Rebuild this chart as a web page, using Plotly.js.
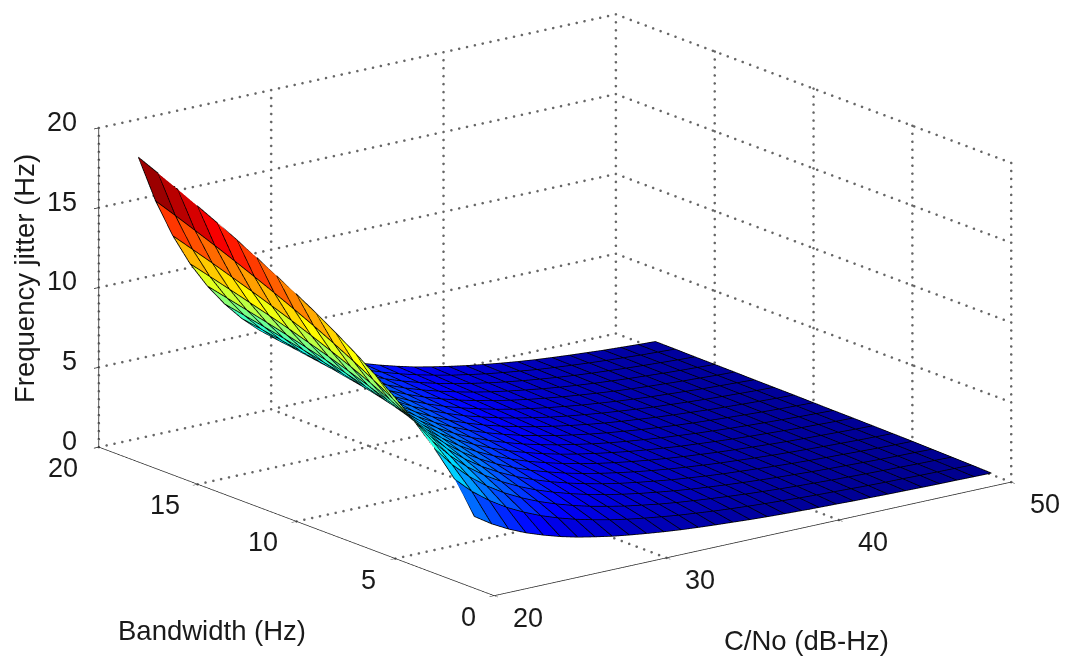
<!DOCTYPE html>
<html><head><meta charset="utf-8">
<script src="https://cdn.plot.ly/plotly-3.0.1.min.js"></script>
<style>html,body{margin:0;padding:0;background:#fff}#c{width:1066px;height:658px}</style>
</head><body><div id="c"></div>
<script>
// Hand-estimated jitter values (Hz), read off the picture and smoothed by eye along each mesh line.
const cno = [20,21,22,23,24,25,26,27,28,29,30,31,32,33,34,35,36,37,38,39,40,41,42,43,44,45,46,47,48,49,50];
const bandwidth = [1,2,3,4,5,6,7,8,9,10,11,12,13,14,15,16,17,18];
const bw1 = [4.50,3.80,3.23,2.76,2.38,2.05,1.78,1.56,1.36,1.20,1.06,0.93,0.82,0.73,0.65,0.58,0.51,0.45,0.40,0.36,0.32,0.29,0.25,0.23,0.20,0.18,0.16,0.14,0.13,0.11,0.10];
const bw2 = [6.37,5.37,4.57,3.90,3.36,2.90,2.52,2.20,1.93,1.69,1.49,1.32,1.17,1.03,0.92,0.81,0.72,0.64,0.57,0.51,0.45,0.40,0.36,0.32,0.28,0.25,0.23,0.20,0.18,0.16,0.14];
const bw3 = [7.80,6.58,5.59,4.78,4.11,3.56,3.09,2.70,2.36,2.07,1.83,1.61,1.43,1.26,1.12,1.00,0.89,0.79,0.70,0.62,0.55,0.49,0.44,0.39,0.35,0.31,0.28,0.25,0.22,0.20,0.17];
const bw4 = [9.00,7.60,6.46,5.52,4.75,4.11,3.57,3.11,2.73,2.40,2.11,1.86,1.65,1.46,1.30,1.15,1.02,0.91,0.81,0.72,0.64,0.57,0.51,0.45,0.40,0.36,0.32,0.28,0.25,0.23,0.20];
const bw5 = [10.07,8.50,7.22,6.17,5.31,4.59,3.99,3.48,3.05,2.68,2.36,2.08,1.84,1.63,1.45,1.29,1.14,1.02,0.90,0.80,0.72,0.64,0.57,0.50,0.45,0.40,0.36,0.32,0.28,0.25,0.23];
const bw6 = [11.03,9.31,7.91,6.76,5.82,5.03,4.37,3.81,3.34,2.93,2.59,2.28,2.02,1.79,1.59,1.41,1.25,1.11,0.99,0.88,0.78,0.70,0.62,0.55,0.49,0.44,0.39,0.35,0.31,0.28,0.25];
const bw7 = [11.91,10.05,8.54,7.31,6.28,5.43,4.72,4.12,3.61,3.17,2.79,2.47,2.18,1.93,1.71,1.52,1.35,1.20,1.07,0.95,0.85,0.75,0.67,0.60,0.53,0.47,0.42,0.38,0.34,0.30,0.27];
const bw8 = [12.73,10.75,9.13,7.81,6.72,5.81,5.05,4.40,3.86,3.39,2.99,2.64,2.33,2.06,1.83,1.63,1.45,1.28,1.14,1.02,0.90,0.81,0.72,0.64,0.57,0.51,0.45,0.40,0.36,0.32,0.29];
const bw9 = [13.51,11.40,9.69,8.28,7.13,6.16,5.35,4.67,4.09,3.59,3.17,2.80,2.47,2.19,1.94,1.73,1.53,1.36,1.21,1.08,0.96,0.86,0.76,0.68,0.60,0.54,0.48,0.43,0.38,0.34,0.30];
const bw10 = [14.24,12.02,10.21,8.73,7.51,6.50,5.64,4.92,4.31,3.79,3.34,2.95,2.61,2.31,2.05,1.82,1.62,1.44,1.28,1.14,1.01,0.90,0.80,0.71,0.64,0.57,0.51,0.45,0.40,0.36,0.32];
const bw11 = [14.93,12.60,10.71,9.16,7.88,6.81,5.92,5.16,4.52,3.97,3.50,3.09,2.73,2.42,2.15,1.91,1.70,1.51,1.34,1.19,1.06,0.95,0.84,0.75,0.67,0.59,0.53,0.47,0.42,0.37,0.34];
const bw12 = [15.60,13.16,11.19,9.56,8.23,7.12,6.18,5.39,4.72,4.15,3.66,3.23,2.85,2.53,2.24,1.99,1.77,1.57,1.40,1.25,1.11,0.99,0.88,0.78,0.70,0.62,0.55,0.49,0.44,0.39,0.35];
const bw13 = [16.23,13.70,11.64,9.96,8.56,7.41,6.43,5.61,4.92,4.32,3.81,3.36,2.97,2.63,2.34,2.07,1.84,1.64,1.46,1.30,1.15,1.03,0.91,0.81,0.72,0.65,0.58,0.51,0.46,0.41,0.36];
const bw14 = [16.84,14.22,12.08,10.33,8.89,7.69,6.68,5.83,5.10,4.48,3.96,3.49,3.08,2.73,2.42,2.15,1.91,1.70,1.51,1.35,1.20,1.07,0.95,0.84,0.75,0.67,0.60,0.53,0.48,0.42,0.38];
const bw15 = [17.43,14.72,12.50,10.69,9.20,7.96,6.91,6.03,5.28,4.64,4.10,3.61,3.19,2.83,2.51,2.23,1.98,1.76,1.57,1.40,1.24,1.10,0.98,0.87,0.78,0.69,0.62,0.55,0.49,0.44,0.39];
const bw16 = [18.01,15.20,12.92,11.04,9.50,8.22,7.14,6.23,5.46,4.79,4.22,3.73,3.30,2.92,2.59,2.30,2.04,1.82,1.62,1.44,1.28,1.14,1.01,0.90,0.80,0.72,0.64,0.57,0.51,0.45,0.40];
const bw17 = [18.56,15.67,13.31,11.38,9.79,8.47,7.36,6.42,5.62,4.94,4.35,3.84,3.40,3.01,2.67,2.37,2.11,1.87,1.67,1.48,1.32,1.18,1.04,0.93,0.83,0.74,0.66,0.59,0.52,0.47,0.42];
const bw18 = [19.10,16.12,13.70,11.71,10.08,8.72,7.57,6.61,5.79,5.08,4.48,3.95,3.50,3.10,2.75,2.44,2.16,1.93,1.72,1.53,1.36,1.21,1.07,0.95,0.85,0.76,0.68,0.60,0.54,0.48,0.43];
const jitter = [bw1,bw2,bw3,bw4,bw5,bw6,bw7,bw8,bw9,bw10,bw11,bw12,bw13,bw14,bw15,bw16,bw17,bw18];
const xTicks = [20,30,40,50];
const yTicks = [0,5,10,15,20];
const zTicks = [0,5,10,15,20];
const xTitle = 'C/No (dB-Hz)', yTitle = 'Bandwidth (Hz)', zTitle = 'Frequency jitter (Hz)';

const jet = [[0,'rgb(0,0,143)'],[0.125,'rgb(0,0,255)'],[0.375,'rgb(0,255,255)'],[0.625,'rgb(255,255,0)'],[0.875,'rgb(255,0,0)'],[1,'rgb(128,0,0)']];

// dotted grid on the floor and two back walls, drawn as rows of tiny markers
const gx=[],gy=[],gz=[];
function seg(a,b,n){for(let i=0;i<=n;i++){const f=i/n;gx.push(a[0]+(b[0]-a[0])*f);gy.push(a[1]+(b[1]-a[1])*f);gz.push(a[2]+(b[2]-a[2])*f);}}
const x0=xTicks[0],x1=xTicks[xTicks.length-1],y0=yTicks[0],y1=yTicks[yTicks.length-1],z0=zTicks[0],z1=zTicks[zTicks.length-1];
const nX=66,nY=53,nZ=40;
xTicks.forEach(t=>{ if(t>x0){seg([t,y0,z0],[t,y1,z0],nY);} seg([t,y1,z0],[t,y1,z1],nZ); });
yTicks.forEach(t=>{ if(t>y0){seg([x0,t,z0],[x1,t,z0],nX);} seg([x1,t,z0],[x1,t,z1],nZ); });
zTicks.forEach(t=>{ if(t>z0){seg([x0,y1,t],[x1,y1,t],nX);seg([x1,y0,t],[x1,y1,t],nY);} });

// flat-coloured cells: every mesh line is doubled so each cell keeps one colour, taken from its first corner
const eps=0.002;
function doubled(v){const o=[];v.forEach((p,i)=>{if(i>0)o.push(p-eps);if(i<v.length-1)o.push(p);});return o;}
function srcIdx(n){const o=[];for(let i=0;i<n;i++){if(i>0)o.push(i);if(i<n-1)o.push(i);}return o;}
function cellIdx(n){const o=[];for(let i=0;i<n-1;i++){o.push(i,i);}return o;}
const ix=srcIdx(cno.length),iy=srcIdx(bandwidth.length),cx=cellIdx(cno.length),cy=cellIdx(bandwidth.length);
const zFlat=iy.map(j=>ix.map(i=>jitter[j][i]));
const cFlat=cy.map(j=>cx.map(i=>jitter[j][i]));

const surf = {type:'surface',x:doubled(cno),y:doubled(bandwidth),z:zFlat,surfacecolor:cFlat,colorscale:jet,cmin:0.1,cmax:19.1,showscale:false,
  lighting:{ambient:1,diffuse:0,specular:0,roughness:1,fresnel:0},hoverinfo:'skip'};
const grid = {type:'scatter3d',mode:'markers',x:gx,y:gy,z:gz,marker:{color:'#666',size:1.5,line:{width:0}},hoverinfo:'skip',showlegend:false};

// black mesh lines along the same values, nudged along the view ray so they sit just in front of the cells;
// the x=20 edge stays exactly on the surface because the axis range would clip a nudged point
const Z=2.134, view=[-0.5818,-0.7609,0.2874], nudge=0.015;
const nx=view[0]*nudge/Z*30, ny=view[1]*nudge/Z*20, nz=view[2]*nudge/(0.512*Z)*20;
const wx=[],wy=[],wz=[];
function wp(c,b,v){const k=c===x0?0:1;wx.push(c+k*nx);wy.push(b+k*ny);wz.push(v+k*nz);}
function brk(){wx.push(null);wy.push(null);wz.push(null);}
bandwidth.forEach((b,j)=>{cno.forEach((c,i)=>wp(c,b,jitter[j][i]));brk();});
cno.forEach((c,i)=>{bandwidth.forEach((b,j)=>wp(c,b,jitter[j][i]));brk();});
const wire = {type:'scatter3d',mode:'lines',x:wx,y:wy,z:wz,line:{color:'#000',width:1.6},connectgaps:false,hoverinfo:'skip',showlegend:false};

const font={family:'"Liberation Sans",Arial,sans-serif',size:27,color:'#1a1a1a'};
const titleFont=Object.assign({},font,{size:27.5});
const yLabelDx=[-26,-27,-33,-33,-36];
const ann=[];
xTicks.forEach(t=>ann.push({x:t,y:y0,z:z0,text:String(t),showarrow:false,font,xshift:34,yshift:-22}));
yTicks.forEach((t,i)=>ann.push({x:x0,y:t,z:z0,text:String(t),showarrow:false,font,xshift:yLabelDx[i],yshift:-21}));
zTicks.forEach(t=>ann.push({x:x0,y:y1,z:t,text:String(t),showarrow:false,font,xanchor:'right',xshift:-20,yshift:6}));

const ax={showbackground:false,showgrid:false,zeroline:false,showline:true,linecolor:'#222',linewidth:1.5,
  ticks:'outside',ticklen:6,tickcolor:'#222',tickwidth:1.5,showticklabels:false,showspikes:false,title:{text:''}};
const layout={width:1066,height:658,margin:{l:0,r:0,t:0,b:0},paper_bgcolor:'#fff',showlegend:false,
  scene:{domain:{x:[0.0412,1],y:[0.073,1]},
    camera:{projection:{type:'orthographic'},center:{x:0,y:0,z:0},up:{x:0,y:0,z:1},eye:{x:view[0]*2,y:view[1]*2,z:view[2]*2}},
    aspectmode:'manual',aspectratio:{x:Z,y:Z,z:0.512*Z},
    xaxis:Object.assign({},ax,{range:[x0,x1],tickvals:xTicks}),
    yaxis:Object.assign({},ax,{range:[y0,y1],tickvals:yTicks}),
    zaxis:Object.assign({},ax,{range:[z0,z1],tickvals:zTicks}),
    annotations:ann},
  annotations:[
    {xref:'paper',yref:'paper',x:212/1066,y:1-630/658,xanchor:'center',yanchor:'middle',text:yTitle,showarrow:false,font:titleFont},
    {xref:'paper',yref:'paper',x:806/1066,y:1-640/658,xanchor:'center',yanchor:'middle',text:xTitle,showarrow:false,font:titleFont},
    {xref:'paper',yref:'paper',x:24/1066,y:1-279/658,xanchor:'center',yanchor:'middle',text:zTitle,showarrow:false,font:titleFont,textangle:-90}
  ]};
Plotly.newPlot('c',[surf,wire,grid],layout,{displayModeBar:false});
</script></body></html>
